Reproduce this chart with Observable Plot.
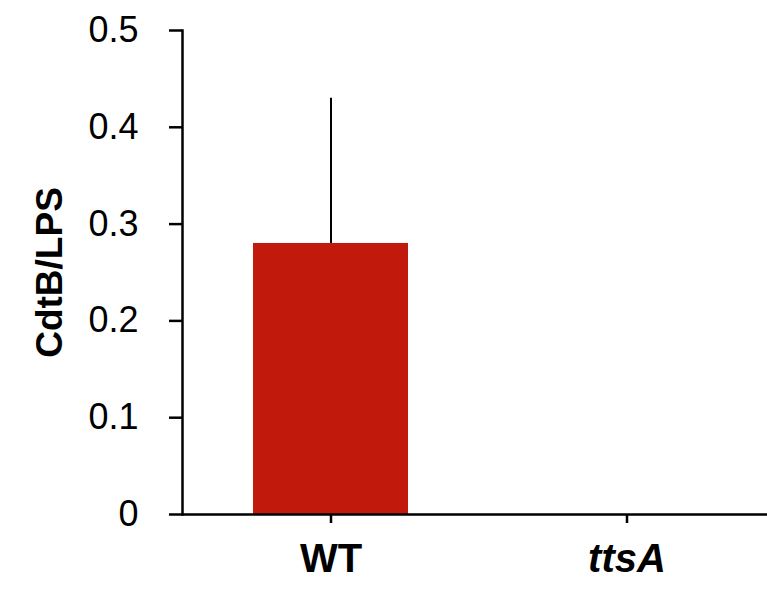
<!DOCTYPE html>
<html>
<head>
<meta charset="utf-8">
<script src="https://cdn.jsdelivr.net/npm/d3@7"></script>
<script src="https://cdn.jsdelivr.net/npm/@observablehq/plot@0.6"></script>
<style>
  html, body { margin: 0; padding: 0; background: #fff; }
  #chart svg { display: block; }
</style>
</head>
<body>
<div id="chart"></div>
<script>
const categories = ["WT", "ttsA"];
const values = [0.28, 0];
const errorsUpper = [0.43, 0];
const yTicks = [0, 0.1, 0.2, 0.3, 0.4, 0.5];

const data = categories.map((c, i) => ({cat: c, value: values[i], upper: errorsUpper[i]}));
const font = "Liberation Sans, Arial, sans-serif";

const chart = Plot.plot({
  width: 767,
  height: 600,
  marginLeft: 182,
  marginRight: 0,
  marginTop: 30,
  marginBottom: 86,
  style: {fontFamily: font, background: "white", color: "black"},
  x: {domain: categories, range: [182, 775], paddingInner: 0.475, paddingOuter: 0.236},
  y: {domain: [0, 0.5]},
  marks: [
    Plot.barY(data, {x: "cat", y: "value", fill: "#c11a0c"}),
    Plot.ruleX(data.filter(d => d.upper > d.value), {x: "cat", y1: "value", y2: "upper", stroke: "black", strokeWidth: 2}),
    Plot.frame({anchor: "left", stroke: "black", strokeWidth: 2.5}),
    Plot.ruleY([0], {stroke: "black", strokeWidth: 2.5}),
    Plot.axisY({
      ticks: yTicks,
      tickSize: 13,
      tickPadding: 31,
      tickFormat: d => String(d),
      strokeWidth: 2.5,
      fontSize: 36,
      label: "CdtB/LPS",
      labelAnchor: "center",
      labelOffset: 147,
      labelArrow: "none"
    }),
    Plot.axisX(["WT"], {tickSize: 9, tickPadding: 20, strokeWidth: 2.5, fontSize: 40, fontWeight: "bold", label: null}),
    Plot.axisX(["ttsA"], {tickSize: 9, tickPadding: 20, strokeWidth: 2.5, fontSize: 40, fontWeight: "bold", fontStyle: "italic", label: null})
  ]
});

// Make the y-axis label bold
d3.select(chart).selectAll("g[aria-label='y-axis label'] text").attr("font-weight", "bold").attr("font-size", 37);
document.getElementById("chart").appendChild(chart);
</script>
</body>
</html>
